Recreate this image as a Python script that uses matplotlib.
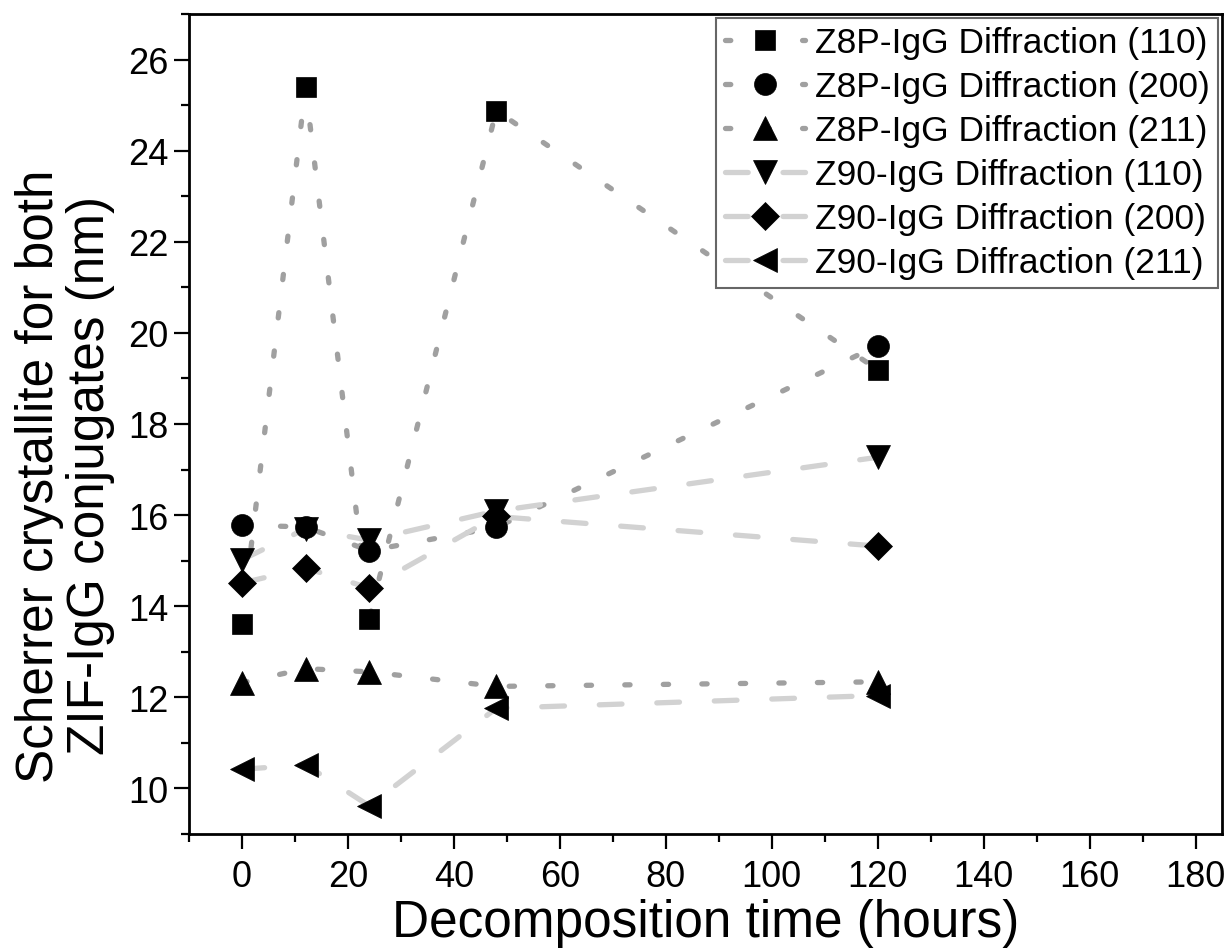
import matplotlib
matplotlib.use("Agg")
import matplotlib.pyplot as plt
from matplotlib.lines import Line2D
from matplotlib.ticker import MultipleLocator

plt.rcParams['font.family'] = ['Liberation Sans', 'DejaVu Sans']

time_h = [0, 12, 24, 48, 120]

z8p_110 = [13.61, 25.39, 13.72, 24.88, 19.19]
z8p_200 = [15.78, 15.74, 15.22, 15.73, 19.72]
z8p_211 = [12.32, 12.63, 12.56, 12.24, 12.34]
z90_110 = [15.02, 15.70, 15.45, 16.09, 17.27]
z90_200 = [14.51, 14.84, 14.40, 15.97, 15.32]
z90_211 = [10.42, 10.52, 9.62, 11.76, 12.04]

labels = ["Z8P-IgG Diffraction (110)", "Z8P-IgG Diffraction (200)",
          "Z8P-IgG Diffraction (211)", "Z90-IgG Diffraction (110)",
          "Z90-IgG Diffraction (200)", "Z90-IgG Diffraction (211)"]
series = [z8p_110, z8p_200, z8p_211, z90_110, z90_200, z90_211]
markers = ['s', 'o', '^', 'v', 'D', '<']
msizes = [14.9, 15.8, 17.5, 17.5, 14.3, 17.5]

dot_color = '#a0a0a0'
dash_color = '#d2d2d2'
dot_style = (0, (1.0, 6.3))
dash_style = (0, (4.3, 6.6))
lw = 3.8

fig = plt.figure(figsize=(12.31, 9.53), dpi=100)
ax = fig.add_axes([189 / 1231, 1 - 835 / 953, (1222 - 189) / 1231, (835 - 15) / 953])

handles = []
for i, (ys, lab, mk, ms) in enumerate(zip(series, labels, markers, msizes)):
    is_dot = i < 3
    col = dot_color if is_dot else dash_color
    style = dot_style if is_dot else dash_style
    ax.plot(time_h, ys, linestyle=style, color=col, lw=lw,
            dash_capstyle='round', zorder=2)
    ax.plot(time_h, ys, linestyle='none', marker=mk, ms=ms, color='black',
            mec='black', mew=0.5, zorder=3)
    handles.append(Line2D([], [], linestyle=style, color=col, lw=lw,
                          dash_capstyle='round', marker=mk, ms=ms,
                          mfc='black', mec='black', mew=0.5))

ax.set_xlim(-10, 185)
ax.set_ylim(9, 27)
ax.xaxis.set_minor_locator(MultipleLocator(10))
ax.yaxis.set_minor_locator(MultipleLocator(1))
ax.set_xticks(range(0, 181, 20))
ax.set_yticks(range(10, 27, 2))

for s in ax.spines.values():
    s.set_linewidth(2.0)
ax.tick_params(which='major', direction='out', length=11, width=1.6,
               labelsize=26, top=False, right=False)
ax.tick_params(which='minor', direction='out', length=6, width=1.6,
               top=False, right=False)
ax.tick_params(axis='x', which='major', pad=7)
ax.tick_params(axis='y', which='major', pad=4)

ax.set_xlabel("Decomposition time (hours)", fontsize=37, labelpad=3)
ax.set_ylabel("Scherrer crystallite for both\nZIF-IgG conjugates (nm)",
              fontsize=37, linespacing=1.05)
ax.yaxis.set_label_coords(-0.072, 0.438)

leg = ax.legend(handles, labels, loc='upper right', fontsize=25.5,
                frameon=True, fancybox=False, framealpha=1,
                edgecolor='#666666', borderpad=0.25, borderaxespad=0.1,
                handlelength=2.25, handletextpad=0.28, labelspacing=0.31,
                numpoints=1)
leg.get_frame().set_linewidth(1.5)

fig.savefig("out.png", dpi=100)
